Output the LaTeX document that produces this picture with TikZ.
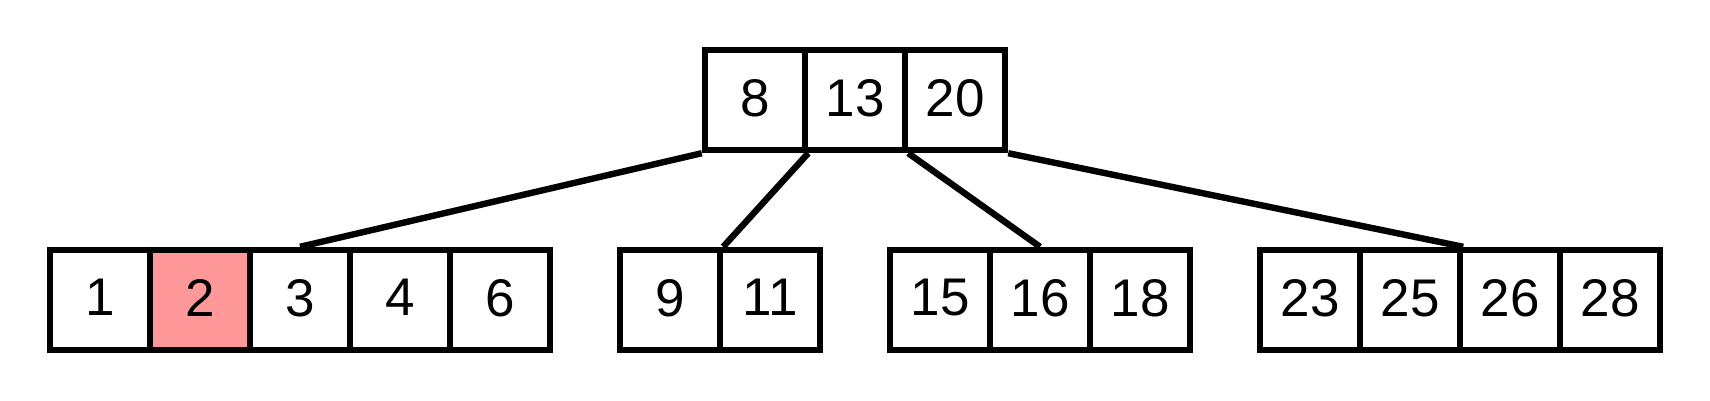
\documentclass[tikz,border=0pt]{standalone}
\usepackage{fontspec}
\setmainfont{Liberation Sans}
\definecolor{hl}{RGB}{255,153,153}
\begin{document}
\begin{tikzpicture}[x=1pt,y=-1pt,
  cell/.style={draw=black,line width=6.4pt,minimum width=100pt,minimum height=100pt,inner sep=0pt,text depth=5pt,font=\fontsize{53}{60}\selectfont},
  edge/.style={draw=black,line width=6.4pt}]
\useasboundingbox (0,0) rectangle (1710,400);
% root
\node[cell] (r1) at (755,100) {8};
\node[cell] (r2) at (855,100) {13};
\node[cell] (r3) at (955,100) {20};
% leaf 1
\node[cell] (a1) at (100,300) {1};
\node[cell,fill=hl] (a2) at (200,300) {2};
\node[cell] (a3) at (300,300) {3};
\node[cell] (a4) at (400,300) {4};
\node[cell] (a5) at (500,300) {6};
% leaf 2
\node[cell] (b1) at (670,300) {9};
\node[cell] (b2) at (770,300) {11};
% leaf 3
\node[cell] (c1) at (940,300) {15};
\node[cell] (c2) at (1040,300) {16};
\node[cell] (c3) at (1140,300) {18};
% leaf 4
\node[cell] (d1) at (1310,300) {23};
\node[cell] (d2) at (1410,300) {25};
\node[cell] (d3) at (1510,300) {26};
\node[cell] (d4) at (1610,300) {28};
% redraw borders of neighbours over the fill
\node[cell] at (a1) {};
\node[cell] at (a3) {};
% connectors
\draw[edge] (r1.south west) -- (a3.north);
\draw[edge] (r1.south east) -- (b1.north east);
\draw[edge] (r2.south east) -- (c2.north);
\draw[edge] (r3.south east) -- (d2.north east);
\end{tikzpicture}
\end{document}
